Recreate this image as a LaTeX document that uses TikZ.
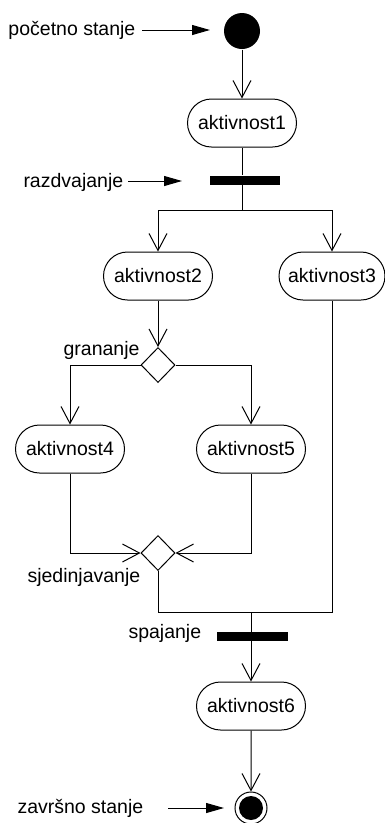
\documentclass[tikz,border=0pt]{standalone}
\usepackage{fontspec}
\setmainfont{Liberation Sans}
\usetikzlibrary{arrows.meta,shapes.geometric,shapes.misc}

\begin{document}
\begin{tikzpicture}[x=1pt,y=-1pt,line width=1pt,
  every node/.style={font=\fontsize{19.5}{22}\selectfont},
  act/.style={draw,rounded rectangle,minimum width=109pt,minimum height=48pt,inner sep=0pt},
  choice/.style={draw,diamond,minimum width=34pt,minimum height=35pt,inner sep=0pt,fill=white},
  bar/.style={fill=black,minimum width=70pt,minimum height=9pt,inner sep=0pt},
  lbl/.style={inner sep=0pt},
  flow/.style={-{Straight Barb[length=17pt,width=18pt,line width=1pt]}},
  pointer/.style={-{Triangle[length=18pt,width=10pt]}}
]
\useasboundingbox (0,0) rectangle (385,823);

% activity nodes
\node[act] (a1) at (242,123) {aktivnost1};
\node[act] (a2) at (158,276) {aktivnost2};
\node[act,minimum width=106pt] (a3) at (332,276) {aktivnost3};
\node[act] (a4) at (70,449) {aktivnost4};
\node[act] (a5) at (251,449) {aktivnost5};
\node[act] (a6) at (251,706) {aktivnost6};

% control nodes
\node[circle,fill=black,minimum size=36pt,inner sep=0pt] (init) at (242,31) {};
\node[bar] (fork) at (245,180) {};
\node[choice] (dec) at (158,365) {};
\node[choice] (merge) at (158,553) {};
\node[bar,minimum width=71pt] (joinbar) at (252,636) {};
\node[circle,draw,fill=white,minimum size=32pt,inner sep=0pt] (fin) at (251,808) {};
\node[circle,fill=black,minimum size=24pt,inner sep=0pt] (fincore) at (fin) {};

% helper points on the orthogonal routes
\coordinate (split) at (242,210);
\coordinate (jn) at (251,612);

% flows
\draw[flow] (init) -- (a1);
\draw (a1.south) -- (a1.south |- fork.north);
\draw (a1.south |- fork.south) -- (split);
\draw[flow] (split) -| (a2.north);
\draw[flow] (split) -| (a3.north);
\draw[flow] (a2) -- (dec);
\draw[flow] (dec.west) -| (a4.north);
\draw[flow] (dec.east) -| (a5.north);
\draw[flow] (a4.south) |- (merge.west);
\draw[flow] (a5.south) |- (merge.east);
\draw (merge.south) |- (a3.south |- jn) -- (a3.south);
\draw[flow] (jn) -- (a6.north);
\draw[flow] (a6) -- (fin);

% annotations
\node[lbl,anchor=base west] (lstart) at (8,35) {početno stanje};
\coordinate (pstart) at (210,30);
\draw[pointer] (142,30) -- (pstart);

\node[lbl,anchor=base west] (lfork) at (23,187) {razdvajanje};
\coordinate (pfork) at (182,181);
\draw[pointer] (128,181) -- (pfork);

\node[lbl,anchor=base east] (ldec) at (140,355) {grananje};
\node[lbl,anchor=base west] (lmerge) at (27,582) {sjedinjavanje};
\node[lbl,anchor=base west] (ljoin) at (128,638) {spajanje};

\node[lbl,anchor=base west] (lend) at (17,813) {završno stanje};
\coordinate (pend) at (224,808);
\draw[pointer] (168,808) -- (pend);
\end{tikzpicture}
\end{document}
